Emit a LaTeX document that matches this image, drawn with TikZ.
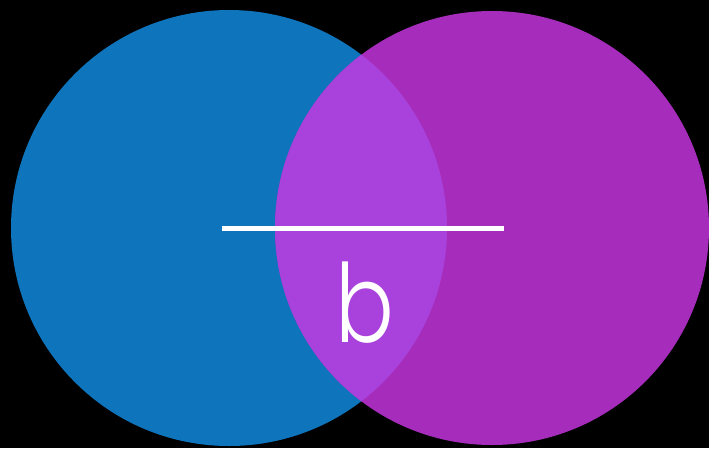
\documentclass[tikz,border=0pt]{standalone}
\usepackage{fontspec}
\setmainfont{Poppins}[UprightFont={* Light}]
\definecolor{cblue}{HTML}{0E74BC}
\definecolor{cpurple}{HTML}{A62DBB}
\definecolor{cmix}{HTML}{A942DC}
\begin{document}
\begin{tikzpicture}[x=1pt,y=-1pt,
  seg/.style={draw=white,line width=5pt},
  lbl/.style={text=white,inner sep=0pt,font=\fontsize{109}{109}\selectfont}]
\fill[black] (0,0) rectangle (709,448);
\useasboundingbox (0,0) rectangle (709,448);
\fill[cblue] (229,228) circle[radius=218];
\fill[cpurple] (492,228) circle[radius=217];
\begin{scope}
  \clip (229,228) circle[radius=218];
  \fill[cmix] (492,228) circle[radius=217];
\end{scope}
\coordinate (L) at (222,228.5);
\coordinate (R) at (504,228.5);
\draw[seg] (L) -- (R);
\node[lbl,anchor=base] (b) at (365,342) {\scalebox{0.8}[1]{b}};
\end{tikzpicture}
\end{document}
